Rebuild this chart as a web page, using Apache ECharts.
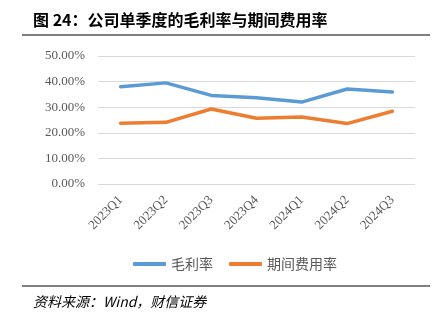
<!DOCTYPE html>
<html><head><meta charset="utf-8">
<script src="https://cdn.jsdelivr.net/npm/echarts@6/dist/echarts.min.js"></script>
<style>html,body{margin:0;padding:0;background:#fff}#c{width:444px;height:322px}</style>
</head><body><div id="c"></div>
<script>
const categories = ['2023Q1','2023Q2','2023Q3','2023Q4','2024Q1','2024Q2','2024Q3'];
const grossMargin = [38.0, 39.5, 34.6, 33.7, 32.0, 37.1, 35.9];
const expenseRatio = [23.7, 24.1, 29.3, 25.7, 26.2, 23.6, 28.4];
const seriesNames = ['毛利率', '期间费用率'];
const titleText = '图 24：公司单季度的毛利率与期间费用率';
const sourceText = '资料来源：Wind，财信证券';

const chart = echarts.init(document.getElementById('c'));
const serif = '"Liberation Serif","DejaVu Serif","Noto Sans CJK SC",serif';
chart.setOption({
  animation: false,
  grid: {left: 98, right: 29, top: 56, bottom: 138, containLabel: false},
  legend: {
    data: seriesNames, top: 252, left: 128, itemWidth: 33, itemHeight: 4, itemGap: 16,
    icon: 'roundRect',
    textStyle: {fontFamily: '"Noto Sans CJK SC",sans-serif', fontSize: 14, color: '#595959'}
  },
  xAxis: {
    type: 'category', data: categories, boundaryGap: true,
    axisLine: {show: false}, axisTick: {show: false},
    axisLabel: {rotate: 45, fontFamily: serif, fontSize: 13, color: '#595959', margin: 14}
  },
  yAxis: {
    type: 'value', min: 0, max: 50, interval: 10,
    axisLabel: {formatter: v => v.toFixed(2) + '%', fontFamily: serif, fontSize: 13, color: '#595959', margin: 13},
    splitLine: {lineStyle: {color: '#d9d9d9', width: 1}},
    axisLine: {show: false}, axisTick: {show: false}
  },
  series: [
    {name: seriesNames[0], type: 'line', data: grossMargin, showSymbol: false, symbol: 'none',
     lineStyle: {color: '#5b9bd5', width: 3.5, cap: 'round'}, itemStyle: {color: '#5b9bd5'}},
    {name: seriesNames[1], type: 'line', data: expenseRatio, showSymbol: false, symbol: 'none',
     lineStyle: {color: '#ed7d31', width: 3.5, cap: 'round'}, itemStyle: {color: '#ed7d31'}}
  ],
  graphic: [
    {type: 'text', left: 33, top: 12, style: {text: titleText, font: 'bold 16px "Noto Sans CJK SC",sans-serif', fill: '#000'}},
    {type: 'line', shape: {x1: 22, y1: 35, x2: 430, y2: 35}, style: {stroke: '#000', lineWidth: 1.2}},
    {type: 'line', shape: {x1: 22, y1: 286, x2: 430, y2: 286}, style: {stroke: '#000', lineWidth: 1.2}},
    {type: 'text', left: 33, top: 295, style: {text: sourceText, font: 'italic 14px "Noto Sans CJK SC",sans-serif', fill: '#000'}}
  ]
});
</script></body></html>
